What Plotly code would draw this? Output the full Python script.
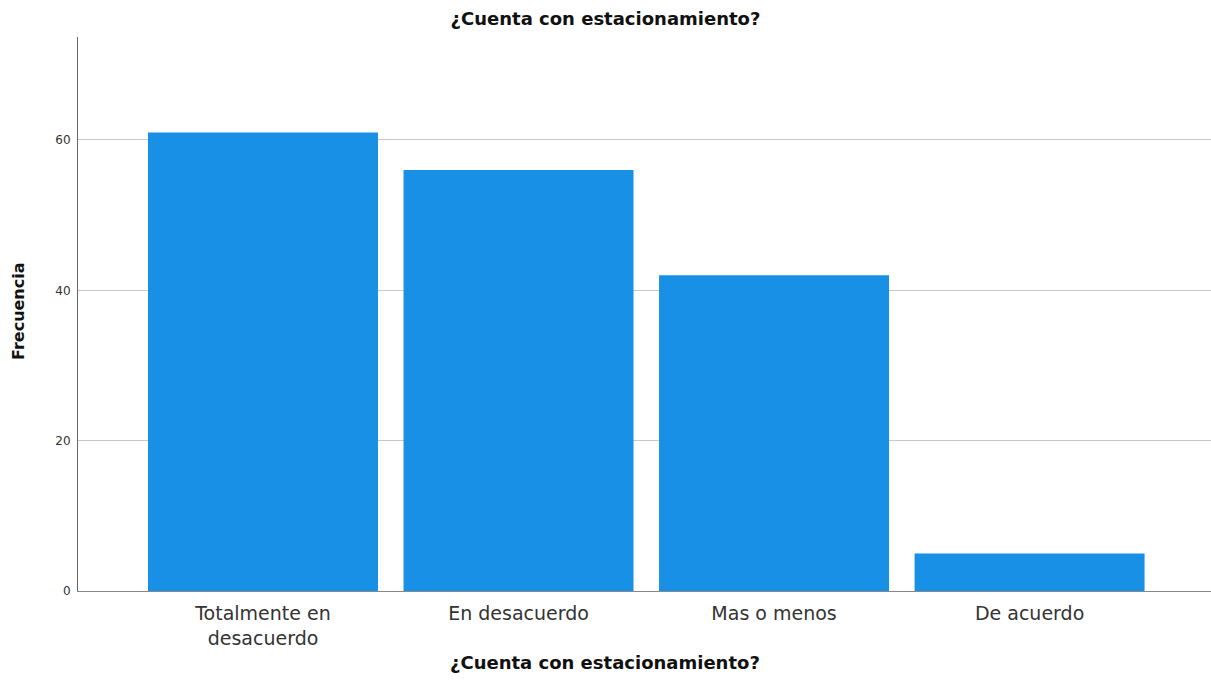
import plotly.graph_objects as go

categories = ["Totalmente en<br>desacuerdo", "En desacuerdo", "Mas o menos", "De acuerdo"]
frequencies = [61, 56, 42, 5]
y_ticks = [0, 20, 40, 60]
title_text = "¿Cuenta con estacionamiento?"
x_title = "¿Cuenta con estacionamiento?"
y_title = "Frecuencia"

W, H = 1211, 697
FONT = "DejaVu Sans, Verdana, sans-serif"
fig = go.Figure(go.Bar(
    x=categories,
    y=frequencies,
    marker=dict(color="#1790e6", line=dict(width=0)),
    width=0.9,
))

fig.update_layout(
    width=W, height=H,
    margin=dict(l=78, r=0, t=37, b=106, autoexpand=False),
    paper_bgcolor="white", plot_bgcolor="white",
    font=dict(family=FONT, color="#222"),
    title=dict(text="<b>" + title_text + "</b>", x=0.5, xanchor="center", xref="container",
               y=1 - 19 / H, yanchor="middle", font=dict(size=18, color="#111")),
    showlegend=False,
    annotations=[
        dict(text="<b>" + x_title + "</b>", xref="paper", yref="paper",
             x=(605 - 78) / (W - 78), y=-(662 - 591) / (H - 37 - 106), xanchor="center", yanchor="middle",
             showarrow=False, font=dict(size=18, color="#111")),
        dict(text="<b>" + y_title + "</b>", xref="paper", yref="paper",
             x=-(78 - 18) / (W - 78), y=(591 - 311) / (H - 37 - 106), xanchor="center", yanchor="middle",
             textangle=-90, showarrow=False, font=dict(size=16, color="#111")),
    ],
)
fig.update_xaxes(
    range=[-0.724, 3.71], automargin=False,
    showline=True, linecolor="#888", linewidth=1,
    showgrid=False, ticks="outside", ticklen=5, tickcolor="rgba(0,0,0,0)",
    tickfont=dict(size=19, color="#333"),
)
fig.update_yaxes(
    range=[0, 73.7], automargin=False,
    tickvals=y_ticks,
    showline=True, linecolor="#666", linewidth=1,
    showgrid=True, gridcolor="#c8c8c8", gridwidth=1,
    zeroline=False,
    ticks="outside", ticklen=4, tickcolor="rgba(0,0,0,0)",
    tickfont=dict(size=12, color="#333"),
)

fig.write_html("out.html", config={"displayModeBar": False},
               post_script="document.body.style.margin='0';document.body.style.overflow='hidden';")
